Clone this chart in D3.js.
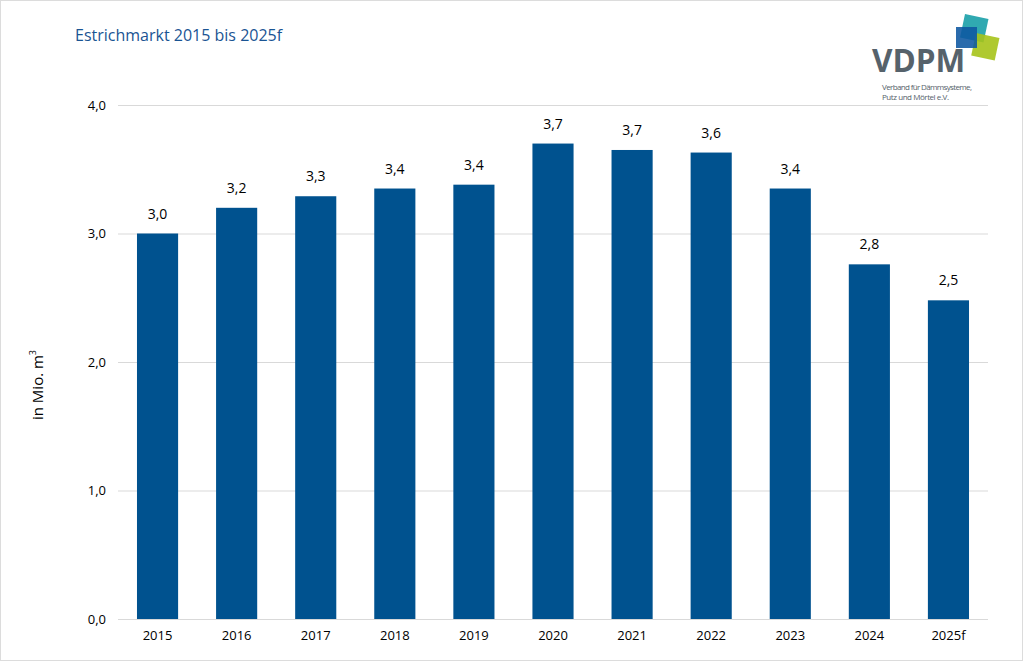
<!DOCTYPE html>
<html>
<head>
<meta charset="utf-8">
<script src="https://cdn.jsdelivr.net/npm/d3@7/dist/d3.min.js"></script>
<style>
  body { margin: 0; background: #fff; }
  svg { display: block; font-family: 'Open Sans', sans-serif; }
</style>
</head>
<body>
<svg width="1024" height="662"></svg>
<script>
var years = ['2015', '2016', '2017', '2018', '2019', '2020', '2021', '2022', '2023', '2024', '2025f'];
var values = [3.0, 3.2, 3.29, 3.35, 3.38, 3.7, 3.65, 3.63, 3.35, 2.76, 2.48];
var labels = ['3,0', '3,2', '3,3', '3,4', '3,4', '3,7', '3,7', '3,6', '3,4', '2,8', '2,5'];
var yTicks = [0, 1, 2, 3, 4];

var svg = d3.select('svg');

// frame
svg.append('rect')
    .attr('x', 0.5).attr('y', 0.5)
    .attr('width', 1022).attr('height', 660)
    .attr('fill', 'none')
    .attr('stroke', '#dcdcdc');

var scaleX = d3.scaleBand().domain(years).range([118, 988]).paddingInner(0.48).paddingOuter(0.24);
var scaleY = d3.scaleLinear().domain([0, 4]).range([619, 105]);

// gridlines + y labels
var yAxis = svg.append('g')
    .attr('transform', 'translate(118,0)')
    .call(d3.axisLeft(scaleY).tickValues(yTicks).tickSize(-870).tickPadding(12)
        .tickFormat(function(d){ return d3.format('.1f')(d).replace('.', ','); }));
yAxis.select('.domain').remove();
yAxis.selectAll('line').attr('stroke', '#d9d9d9');
yAxis.selectAll('text').attr('font-size', 13).attr('fill', '#000').attr('font-family', 'Open Sans, sans-serif');

// bars
svg.selectAll('rect.bar')
    .data(values)
    .enter()
    .append('rect')
    .attr('class', 'bar')
    .attr('x', function(d, i){ return scaleX(years[i]); })
    .attr('y', function(d){ return scaleY(d); })
    .attr('width', scaleX.bandwidth())
    .attr('height', function(d){ return scaleY(0) - scaleY(d); })
    .attr('fill', '#00528f');

// value labels
svg.selectAll('text.val')
    .data(values)
    .enter()
    .append('text')
    .attr('class', 'val')
    .attr('x', function(d, i){ return scaleX(years[i]) + scaleX.bandwidth() / 2; })
    .attr('y', function(d){ return scaleY(d) - 15; })
    .attr('text-anchor', 'middle')
    .attr('font-size', 14)
    .text(function(d, i){ return labels[i]; });

// x labels
var xAxis = svg.append('g')
    .attr('transform', 'translate(0,619)')
    .call(d3.axisBottom(scaleX).tickSize(0).tickPadding(12));
xAxis.select('.domain').remove();
xAxis.selectAll('text').attr('font-size', 13).attr('fill', '#000').attr('font-family', 'Open Sans, sans-serif');

// y title
var yt = svg.append('text')
    .attr('transform', 'translate(43,385) rotate(-90)')
    .attr('text-anchor', 'middle')
    .attr('font-size', 15);
yt.append('tspan').text('in Mio. m');
yt.append('tspan').attr('font-size', 9).attr('dy', -7).text('3');

// title
svg.append('text')
    .attr('x', 75)
    .attr('y', 41)
    .attr('font-size', 16)
    .attr('fill', '#1a5493')
    .text('Estrichmarkt 2015 bis 2025f');

// logo
var logo = svg.append('g');
logo.append('rect')
    .attr('x', 0).attr('y', 0).attr('width', 24).attr('height', 24)
    .attr('fill', '#1aa0a8').attr('opacity', 0.9)
    .attr('transform', 'translate(965,14) rotate(12)');
logo.append('rect')
    .attr('x', 0).attr('y', 0).attr('width', 24).attr('height', 23)
    .attr('fill', '#a6c31a').attr('opacity', 0.9)
    .attr('transform', 'translate(976,33) rotate(12)');
logo.append('rect')
    .attr('x', 956).attr('y', 27).attr('width', 21).attr('height', 21)
    .attr('fill', '#0d56a0').attr('opacity', 0.88);
logo.append('text')
    .attr('x', 872).attr('y', 72)
    .attr('font-size', 31.5)
    .attr('font-weight', 'bold')
    .attr('fill', '#56626b')
    .text('VDPM');
logo.append('text')
    .attr('x', 882).attr('y', 90)
    .attr('font-size', 8)
    .attr('fill', '#56626b')
    .attr('textLength', 90)
    .text('Verband für Dämmsysteme,');
logo.append('text')
    .attr('x', 882).attr('y', 100)
    .attr('font-size', 8)
    .attr('fill', '#56626b')
    .attr('textLength', 67)
    .text('Putz und Mörtel e.V.');
</script>
</body>
</html>
